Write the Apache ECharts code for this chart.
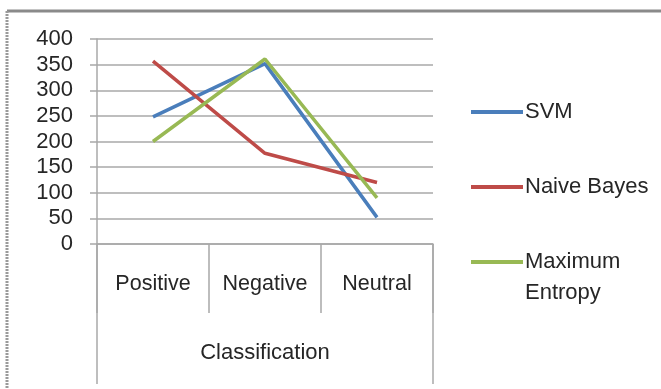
<!DOCTYPE html>
<html><head><meta charset="utf-8">
<script src="https://cdn.jsdelivr.net/npm/echarts@6/dist/echarts.min.js"></script>
<style>html,body{margin:0;padding:0;background:#fff}#c{width:661px;height:389px}</style>
</head><body><div id="c"></div>
<script>
const categories = ['Positive', 'Negative', 'Neutral'];
const svm = [248, 352, 52];
const naiveBayes = [357, 177, 120];
const maxEntropy = [200, 361, 90];
const yTicks = [0, 50, 100, 150, 200, 250, 300, 350, 400];
const seriesNames = ['SVM', 'Naive Bayes', 'Maximum Entropy'];

const font = 'Liberation Sans';
const txt = '#262626';
const fs = 22;
const chart = echarts.init(document.getElementById('c'));
const gridColor = '#a8a8a8';
function legendFor(name, centerY, multi) {
  return {
    orient: 'vertical', left: 471, top: multi ? centerY - 46.5 : centerY - 15.5, padding: 0,
    itemWidth: 52, itemHeight: 4, icon: 'rect',
    textStyle: { fontSize: fs, color: txt, fontFamily: font, lineHeight: 31, padding: [0, 0, 0, -3] },
    formatter: n => n === 'Maximum Entropy' ? ' \nMaximum\nEntropy' : n,
    data: [name]
  };
}
chart.setOption({
  animation: false,
  textStyle: { fontFamily: font },
  grid: { left: 97, right: 228, top: 39, bottom: 145, containLabel: false },
  legend: [
    legendFor(seriesNames[0], 112, false),
    legendFor(seriesNames[1], 187, false),
    legendFor(seriesNames[2], 262, true)
  ],
  xAxis: {
    type: 'category', data: categories, boundaryGap: true,
    name: 'Classification', nameLocation: 'middle', nameGap: 98,
    nameTextStyle: { fontSize: fs, color: txt },
    axisLine: { lineStyle: { color: gridColor, width: 1.5 } },
    axisTick: { show: true, interval: 0, length: 69, lineStyle: { color: gridColor, width: 1.5 } },
    axisLabel: { fontSize: 21.5, color: txt, margin: 29, interval: 0, hideOverlap: false }
  },
  yAxis: {
    type: 'value', min: yTicks[0], max: yTicks[yTicks.length - 1], interval: 50,
    axisLine: { show: true, lineStyle: { color: gridColor, width: 1.5 } },
    axisTick: { show: true, length: 7, lineStyle: { color: gridColor, width: 1.5 } },
    axisLabel: { fontSize: fs, color: txt, margin: 24 },
    splitLine: { lineStyle: { color: gridColor, width: 1.5 } }
  },
  series: [
    { name: seriesNames[0], type: 'line', data: svm, symbol: 'none', lineStyle: { width: 3.5, color: '#4a7ebb' }, itemStyle: { color: '#4a7ebb' } },
    { name: seriesNames[1], type: 'line', data: naiveBayes, symbol: 'none', lineStyle: { width: 3.5, color: '#be4b48' }, itemStyle: { color: '#be4b48' } },
    { name: seriesNames[2], type: 'line', data: maxEntropy, symbol: 'none', lineStyle: { width: 3.5, color: '#98b954' }, itemStyle: { color: '#98b954' } }
  ],
  graphic: [
    { type: 'line', shape: { x1: 7, y1: 11, x2: 661, y2: 11 }, style: { stroke: '#8a8a8a', lineWidth: 3 } },
    { type: 'line', shape: { x1: 7, y1: 11, x2: 7, y2: 389 }, style: { stroke: '#9a9a9a', lineWidth: 3, lineDash: [2, 1] } },
    { type: 'line', shape: { x1: 97, y1: 244, x2: 97, y2: 384 }, style: { stroke: gridColor, lineWidth: 1.5 } },
    { type: 'line', shape: { x1: 433, y1: 244, x2: 433, y2: 384 }, style: { stroke: gridColor, lineWidth: 1.5 } }
  ]
});
</script></body></html>
